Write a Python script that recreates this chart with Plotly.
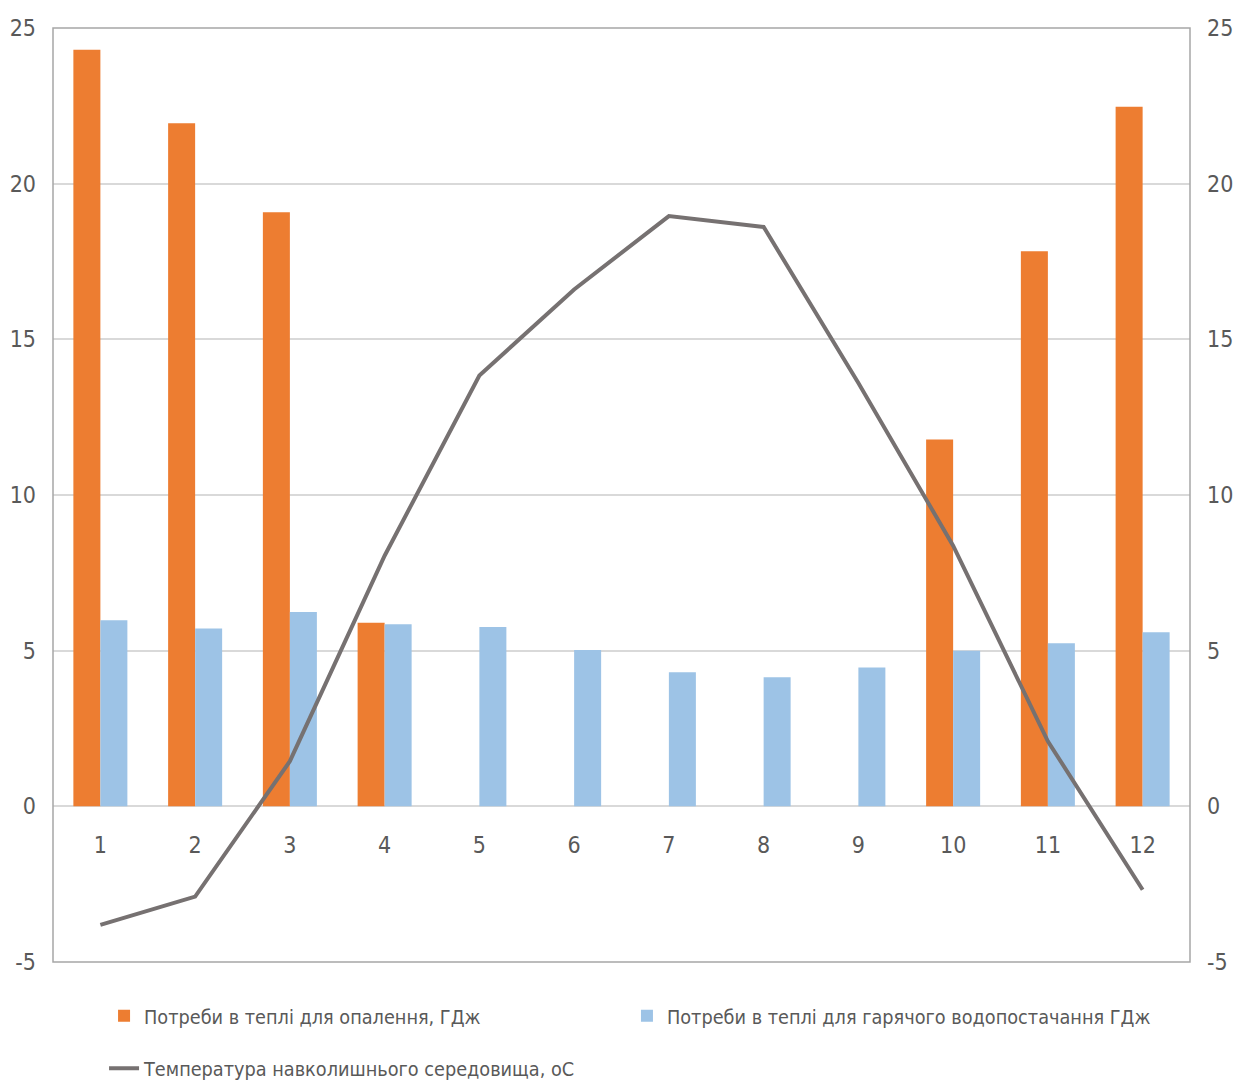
import plotly.graph_objects as go

# Monthly data
months = ["1", "2", "3", "4", "5", "6", "7", "8", "9", "10", "11", "12"]
heating_gj = [24.3, 21.94, 19.08, 5.90, None, None, None, None, None, 11.78, 17.83, 22.47]
hot_water_gj = [5.98, 5.71, 6.24, 5.85, 5.76, 5.02, 4.31, 4.15, 4.46, 5.00, 5.24, 5.59]
ambient_temp = [-3.81, -2.90, 1.45, 8.05, 13.84, 16.6, 18.96, 18.61, 13.6, 8.37, 2.09, -2.68]

heating_name = "Потреби в теплі для опалення, ГДж"
water_name = "Потреби в теплі для гарячого водопостачання ГДж"
temp_name = "Температура навколишнього середовища, оС"

y_ticks = [-5, 0, 5, 10, 15, 20, 25]
y_tick_text = ["-5", "0", "5", "10", "15", "20", "25"]

FONT = "DejaVu Sans Condensed, Roboto, sans-serif"
TEXT_COLOR = "#595959"
GRID_COLOR = "#d9d9d9"
BORDER_COLOR = "#a6a6a6"
TICK_SIZE = 23
LEGEND_SIZE = 19.7

fig = go.Figure()
fig.add_trace(go.Bar(x=months, y=heating_gj, name=heating_name, legend="legend",
                     showlegend=True,
                     marker=dict(color="#ED7D31", line=dict(width=0))))
fig.add_trace(go.Bar(x=months, y=hot_water_gj, name=water_name, legend="legend2",
                     showlegend=True,
                     marker=dict(color="#9DC3E6", line=dict(width=0))))
fig.add_trace(go.Scatter(x=months, y=ambient_temp, name=temp_name, mode="lines",
                         yaxis="y2", legend="legend3", showlegend=True,
                         line=dict(color="#767171", width=4)))

y_range = [-5, 25]
zero_pos = (0 - y_range[0]) / (y_range[1] - y_range[0])

legend_style = dict(orientation="h", xanchor="left", yanchor="top",
                    bgcolor="rgba(0,0,0,0)", visible=True,
                    font=dict(family=FONT, size=LEGEND_SIZE, color=TEXT_COLOR))

fig.update_layout(
    width=1238, height=1084,
    showlegend=True,
    margin=dict(l=53, r=48, t=28, b=122, autoexpand=False),
    paper_bgcolor="white", plot_bgcolor="white",
    font=dict(family=FONT, size=TICK_SIZE, color=TEXT_COLOR),
    barmode="group", bargap=0.43, bargroupgap=0,
    xaxis=dict(
        type="category", anchor="free", position=zero_pos,
        showline=False, showgrid=False, zeroline=False, ticks="",
        ticklabelstandoff=23,
        tickfont=dict(family=FONT, size=TICK_SIZE, color=TEXT_COLOR),
    ),
    yaxis=dict(
        range=y_range, tickvals=y_ticks, ticktext=y_tick_text,
        showgrid=True, gridcolor=GRID_COLOR, gridwidth=1.5,
        zeroline=True, zerolinecolor=GRID_COLOR, zerolinewidth=1.5,
        showline=False, ticks="", ticklabelstandoff=16,
        tickfont=dict(family=FONT, size=TICK_SIZE, color=TEXT_COLOR),
    ),
    yaxis2=dict(
        range=y_range, tickvals=y_ticks, ticktext=y_tick_text,
        overlaying="y", side="right",
        showgrid=False, zeroline=False, showline=False, ticks="",
        ticklabelstandoff=16,
        tickfont=dict(family=FONT, size=TICK_SIZE, color=TEXT_COLOR),
    ),
    legend=dict(x=0.0449, y=-0.037, **legend_style),
    legend2=dict(x=0.5048, y=-0.037, **legend_style),
    legend3=dict(x=0.0449, y=-0.093, **legend_style),
    shapes=[dict(type="rect", xref="paper", yref="paper", x0=0, x1=1, y0=0, y1=1,
                 line=dict(color=BORDER_COLOR, width=1.5), layer="above")],
)

fig.write_html("out.html")
